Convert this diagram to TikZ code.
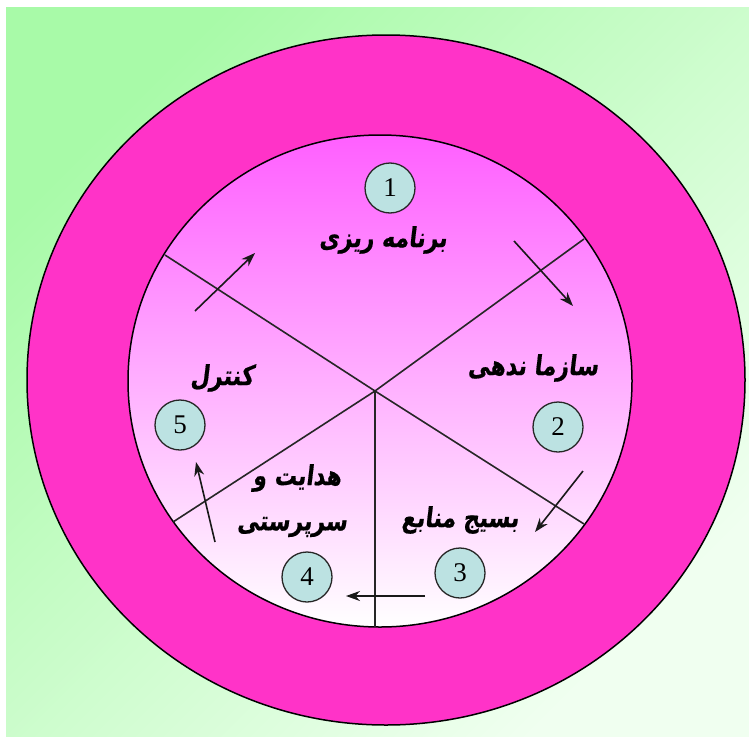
\documentclass[tikz,border=0pt]{standalone}
\usepackage{fontspec}
\usepackage{graphicx}
\setmainfont{Liberation Serif}
\newfontfamily\fa[Script=Arabic,FakeSlant=0.15,BoldFeatures={FakeSlant=0.15,FakeBold=0.6}]{DejaVu Sans}
\TeXXeTstate=1
\usetikzlibrary{arrows.meta}
\definecolor{ringmag}{RGB}{255,51,200}
\definecolor{innertop}{RGB}{255,95,255}
\definecolor{numfill}{RGB}{188,226,226}
\definecolor{bgA}{RGB}{168,250,168}
\definecolor{bgB}{RGB}{240,255,240}
\newcommand{\faLabel}[1]{\scalebox{1}[1.25]{\beginR #1\endR}}
\begin{document}
\begin{tikzpicture}[x=1pt,y=-1pt,
  numc/.style={circle,draw=black!85,line width=1.3pt,fill=numfill,minimum size=50pt,inner sep=0pt,font=\fontsize{27}{27}\selectfont},
  lab/.style={font=\fa\bfseries\fontsize{22}{26}\selectfont,inner sep=0pt},
  spoke/.style={draw=black!85,line width=1.6pt},
  flow/.style={draw=black!90,line width=1.6pt,-{Stealth[length=14pt,width=10pt]}}]
\useasboundingbox (0,0) rectangle (749,736);
\fill[white] (0,0) rectangle (749,736);
\shade[top color=bgA,bottom color=bgB,shading angle=45] (6,7) rectangle (749,736);
% rings
\draw[fill=ringmag,line width=1.5pt] (386,380) ellipse [x radius=359,y radius=345];
\draw[top color=innertop,bottom color=white,line width=1.5pt] (380,381) ellipse [x radius=252,y radius=246];
% spokes
\coordinate (C) at (375,391);
\coordinate (UL) at (165,255);
\coordinate (UR) at (584,239);
\coordinate (LL) at (173,522);
\coordinate (LR) at (584,524);
\coordinate (B) at (375,627);
\draw[spoke] (C) -- (UL);
\draw[spoke] (C) -- (UR);
\draw[spoke] (C) -- (LL);
\draw[spoke] (C) -- (LR);
\draw[spoke] (C) -- (B);
% number circles
\node[numc] (n1) at (390,188) {1};
\node[numc] (n2) at (558,427) {2};
\node[numc] (n3) at (460,573) {3};
\node[numc] (n4) at (307,577) {4};
\node[numc] (n5) at (180,425) {5};
% labels
\node[lab] (l1) at (383,240) {\faLabel{برنامه ریزی}};
\node[lab] (l2) at (533,368) {\faLabel{سازما ندهی}};
\node[lab] (l3) at (460,520) {\faLabel{بسیج منابع}};
\node[lab] (l4a) at (297,478) {\faLabel{هدایت و}};
\node[lab] (l4b) at (292,527) {\faLabel{سرپرستی}};
\node[lab] (l5) at (222,378) {\faLabel{کنترل}};
% flow arrows
\coordinate (a12s) at (514,241); \coordinate (a12e) at (573,306);
\coordinate (a23s) at (583,471); \coordinate (a23e) at (535,532);
\coordinate (a34s) at (425,596); \coordinate (a34e) at (346,596);
\coordinate (a45s) at (215,542); \coordinate (a45e) at (196,462);
\coordinate (a51s) at (195,311); \coordinate (a51e) at (255,253);
\draw[flow] (a12s) -- (a12e);
\draw[flow] (a23s) -- (a23e);
\draw[flow] (a34s) -- (a34e);
\draw[flow] (a45s) -- (a45e);
\draw[flow] (a51s) -- (a51e);
\end{tikzpicture}
\end{document}
